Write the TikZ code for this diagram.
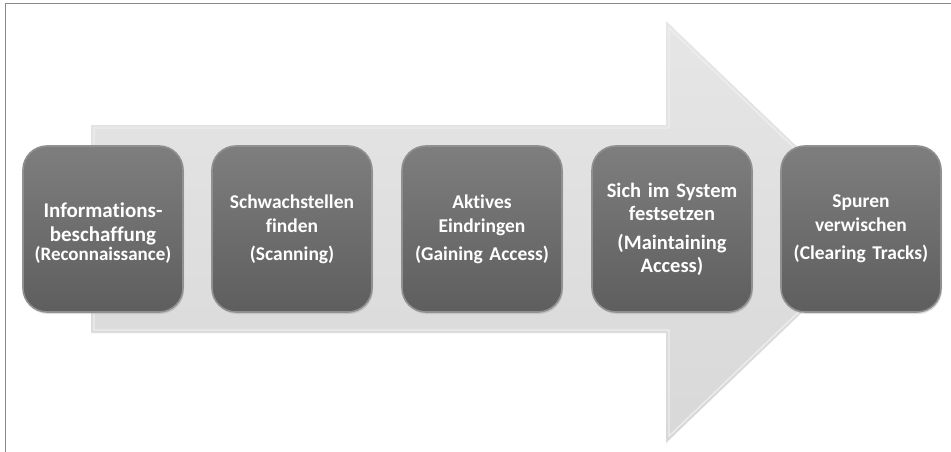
\documentclass[tikz,border=0pt]{standalone}
\usepackage{fontspec}
\setmainfont{Carlito}[Ligatures=NoCommon]
\usetikzlibrary{shadows}
\definecolor{framegray}{HTML}{8A8A8A}
\definecolor{arrowtop}{HTML}{E6E6E6}
\definecolor{arrowbot}{HTML}{D8D8D8}
\definecolor{arrowrim}{HTML}{EEEEEE}
\definecolor{boxtop}{HTML}{7E7E7E}
\definecolor{boxbot}{HTML}{5E5E5E}
\definecolor{boxrim}{HTML}{909090}
\tikzset{
  phase/.style={rectangle, rounded corners=24pt, minimum width=160pt,
    minimum height=166pt, inner sep=0pt, text width=158pt, align=center,
    top color=boxtop, bottom color=boxbot, draw=boxrim, line width=1.6pt,
    text=white, font=\fontsize{19.5}{24}\selectfont\bfseries,
    drop shadow={opacity=0.25, shadow xshift=1pt, shadow yshift=-2pt}},
  phasetext/.style={inner sep=0pt, text width=158pt, align=center,
    text=white, font=\fontsize{21}{24}\selectfont\bfseries}
}
\begin{document}
\begin{tikzpicture}[x=1pt,y=-1pt]
\useasboundingbox (0,0) rectangle (951,452);
\fill[white] (0,0) rectangle (951,452);
% frame lines on top and left
\draw[framegray, line width=1pt] (5.5,452) -- (5.5,3.5) -- (951,3.5);
% big process arrow behind the phases
\shade[top color=arrowtop, bottom color=arrowbot]
  (91,125) -- (666,125) -- (666,21) -- (886,232) -- (666,443) -- (666,333) -- (91,333) -- cycle;
\draw[arrowrim, line width=1.2pt]
  (94,128) -- (669,128) -- (669,28) -- (882,232) -- (669,436) -- (669,330) -- (94,330) -- cycle;
% phases
\node[phase] (p1) at (103,229) {};
\node[phasetext] (t1) at (103,233)
  {Informations-\\beschaffung\\[-5pt]{\fontsize{19}{19}\selectfont(Reconnaissance)}};
\node[phase] (p2) at (292,229) {Schwachstellen\\finden\\[4pt](Scanning)};
\node[phase] (p3) at (482,229) {Aktives\\Eindringen\\[4pt](Gaining Access)};
\node[phase, font=\fontsize{20.5}{23}\selectfont\bfseries] (p4) at (672,229)
  {Sich im System\\festsetzen\\[6pt](Maintaining\\Access)};
\node[phase] (p5) at (861,229) {Spuren\\verwischen\\[4pt](Clearing Tracks)};
\end{tikzpicture}
\end{document}
